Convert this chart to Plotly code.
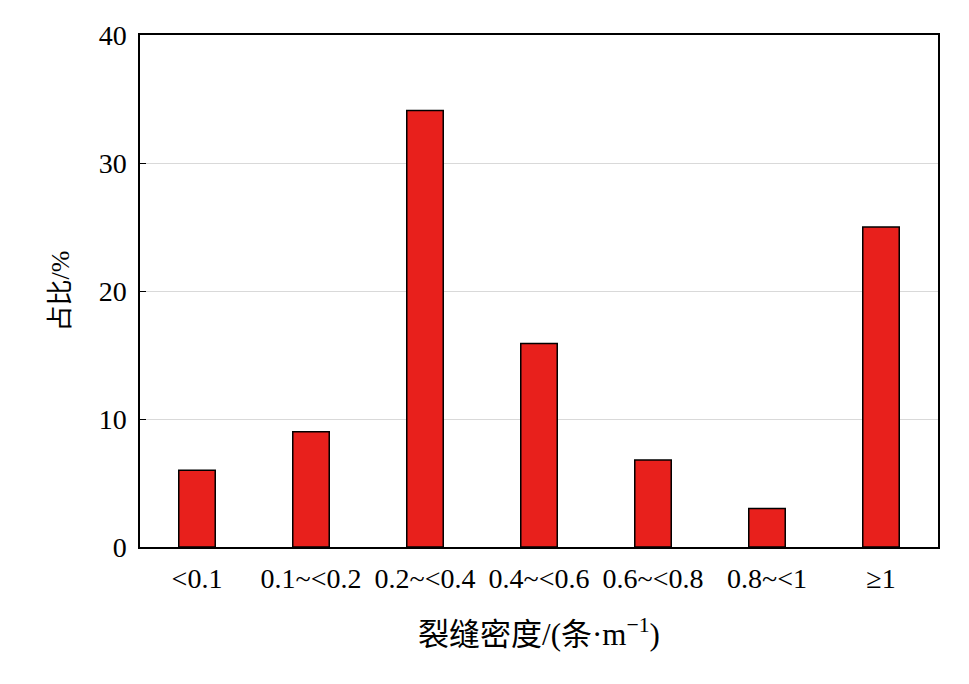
import plotly.graph_objects as go

categories = ["<0.1", "0.1~<0.2", "0.2~<0.4", "0.4~<0.6", "0.6~<0.8", "0.8~<1", "≥1"]
values = [6.0, 9.0, 34.1, 15.9, 6.8, 3.0, 25.0]
y_ticks = [0, 10, 20, 30, 40]

font_family = "'Liberation Serif', 'Times New Roman', 'Noto Sans CJK SC', serif"

fig = go.Figure(go.Bar(
    x=categories, y=values,
    marker=dict(color="#E8201C", line=dict(color="black", width=1.5)),
))

fig.update_layout(
    width=969, height=684,
    margin=dict(l=132, r=39, t=24, b=145),
    paper_bgcolor="white", plot_bgcolor="white",
    bargap=0.68,
    font=dict(family=font_family, size=28, color="black"),
    showlegend=False,
)
fig.update_xaxes(
    showline=True, linecolor="black", linewidth=1.5, mirror=True,
    ticks="", showgrid=False,
    ticklabelstandoff=6,
    title=dict(text="裂缝密度/(条·m<sup>−1</sup>)", standoff=30, font=dict(size=31, family=font_family)),
    tickfont=dict(size=28, family=font_family),
)
fig.update_yaxes(
    range=[0, 40], tickvals=y_ticks,
    showline=True, linecolor="black", linewidth=1.5, mirror=True,
    ticks="inside", ticklen=6, tickcolor="black",
    showgrid=True, gridcolor="#d9d9d9", gridwidth=1,
    zeroline=False,
    ticklabelstandoff=6,
    title=dict(text="占比/%", standoff=22, font=dict(size=26, family=font_family)),
    tickfont=dict(size=28, family=font_family),
)

fig.write_html("out.html")
